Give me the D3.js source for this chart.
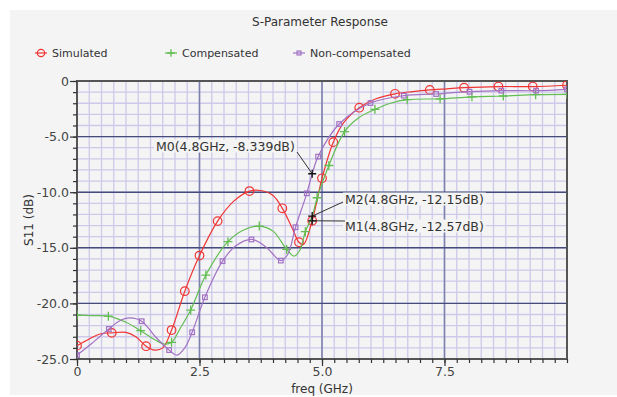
<!DOCTYPE html>
<html>
<head>
<meta charset="utf-8">
<script src="https://cdn.jsdelivr.net/npm/d3@7"></script>
<style>
  body { margin: 0; background: #fff; }
  text { font-family: "DejaVu Sans", sans-serif; }
</style>
</head>
<body>
<div id="chart"></div>
<script>
// ---- data ----
let simFreq = [0, 0.25, 0.47, 0.71, 1.0, 1.2, 1.41, 1.58, 1.75, 1.93, 2.2, 2.5, 2.87, 3.2, 3.52, 3.75, 4.0, 4.19, 4.4, 4.53, 4.62, 4.8, 5.0, 5.23, 5.45, 5.76, 6.1, 6.49, 6.85, 7.2, 7.55, 7.9, 8.6, 9.3, 10]
let simVal = [-23.8, -23.2, -22.75, -22.65, -22.6, -23.0, -23.85, -24.2, -24.0, -22.4, -18.9, -15.7, -12.6, -10.8, -9.9, -9.85, -10.3, -11.45, -13.3, -14.5, -14.7, -12.57, -8.75, -5.5, -3.7, -2.4, -1.6, -1.15, -0.95, -0.8, -0.7, -0.6, -0.5, -0.5, -0.38]
let simMarks = [0, 3, 6, 9, 10, 11, 12, 14, 17, 19, 21, 22, 23, 25, 27, 29, 31, 32, 33, 34]

let compFreq = [0, 0.3, 0.64, 1.0, 1.3, 1.6, 1.78, 1.93, 2.1, 2.32, 2.63, 3.08, 3.4, 3.72, 4.0, 4.28, 4.43, 4.55, 4.66, 4.8, 4.9, 5.14, 5.46, 5.75, 6.08, 6.4, 6.74, 7.41, 8.06, 8.7, 9.36, 10]
let compVal = [-21.05, -21.1, -21.15, -21.7, -22.45, -23.3, -23.65, -23.5, -22.3, -20.6, -17.45, -14.45, -13.4, -13.05, -13.5, -15.15, -15.75, -15.2, -13.55, -12.15, -10.5, -7.6, -4.55, -3.3, -2.55, -2.0, -1.68, -1.6, -1.42, -1.35, -1.23, -1.2]
let compMarks = [0, 2, 4, 7, 9, 10, 11, 13, 15, 18, 20, 21, 22, 24, 26, 27, 28, 29, 30, 31]

let ncFreq = [0, 0.3, 0.65, 0.9, 1.08, 1.32, 1.6, 1.88, 2.04, 2.2, 2.35, 2.61, 2.97, 3.25, 3.56, 3.85, 4.16, 4.3, 4.46, 4.69, 4.8, 4.92, 5.35, 5.99, 6.67, 7.33, 8.01, 8.66, 9.37, 10]
let ncVal = [-24.65, -23.6, -22.3, -21.5, -21.3, -21.6, -23.0, -24.2, -24.65, -24.0, -22.6, -19.45, -16.2, -14.8, -14.25, -14.9, -16.15, -15.6, -13.15, -10.1, -8.34, -6.8, -3.87, -1.98, -1.32, -1.17, -0.96, -0.87, -0.87, -0.75]
let ncMarks = [0, 2, 5, 7, 10, 11, 12, 14, 16, 18, 19, 21, 22, 23, 24, 25, 26, 27, 28, 29]

let markerNames = ["M0", "M1", "M2"]
let markerFreq = [4.8, 4.8, 4.8]
let markerVal = [-8.339, -12.57, -12.15]

let xMajor = [0, 2.5, 5.0, 7.5]
let yMajor = [0, -5, -10, -15, -20, -25]
let seriesNames = ["Simulated", "Compensated", "Non-compensated"]
let seriesColors = ["#f03434", "#62bd52", "#a272c4"]

// ---- layout ----
let W = 617, H = 397
let plot = {left: 77, top: 81, right: 567, bottom: 359}

let svg = d3.select("#chart").append("svg")
    .attr("width", W)
    .attr("height", H)

svg.append("rect")
    .attr("x", 10).attr("y", 10)
    .attr("width", W - 10).attr("height", H - 12)
    .attr("fill", "#f4f4f4")

let x = d3.scaleLinear().domain([0, 10]).range([plot.left, plot.right])
let y = d3.scaleLinear().domain([-25, 0]).range([plot.bottom, plot.top])

// grid
let grid = svg.append("g")
grid.selectAll(".vminor")
    .data(d3.range(1, 40).map(i => i * 0.25))
  .enter().append("line")
    .attr("x1", d => x(d)).attr("x2", d => x(d))
    .attr("y1", plot.top).attr("y2", plot.bottom)
    .attr("stroke", "#cdc9ea").attr("stroke-width", 1.3)
grid.selectAll(".hminor")
    .data(d3.range(-24, 0))
  .enter().append("line")
    .attr("y1", d => y(d)).attr("y2", d => y(d))
    .attr("x1", plot.left).attr("x2", plot.right)
    .attr("stroke", "#cdc9ea").attr("stroke-width", 1.3)
grid.selectAll(".vmajor")
    .data(xMajor.slice(1))
  .enter().append("line")
    .attr("x1", d => x(d)).attr("x2", d => x(d))
    .attr("y1", plot.top).attr("y2", plot.bottom)
    .attr("stroke", "#7c82ad").attr("stroke-width", 1.6)
grid.selectAll(".hmajor")
    .data(yMajor.slice(1, -1))
  .enter().append("line")
    .attr("y1", d => y(d)).attr("y2", d => y(d))
    .attr("x1", plot.left).attr("x2", plot.right)
    .attr("stroke", "#454b7c").attr("stroke-width", 1.4)

// frame
svg.append("rect")
    .attr("x", plot.left).attr("y", plot.top)
    .attr("width", plot.right - plot.left).attr("height", plot.bottom - plot.top)
    .attr("fill", "none").attr("stroke", "#555").attr("stroke-width", 2)

// axes
let fmt = d => d === 0 ? "0" : d3.format(".1f")(d).replace("\u2212", "-")

let xAxisMinor = d3.axisBottom(x).tickValues(d3.range(0, 41).map(i => i * 0.25))
    .tickSize(4).tickSizeOuter(0).tickFormat("")
let xAxis = d3.axisBottom(x).tickValues(xMajor).tickSize(7).tickSizeOuter(0).tickFormat(fmt)
let yAxisMinor = d3.axisLeft(y).tickValues(d3.range(-25, 1)).tickSize(4).tickSizeOuter(0).tickFormat("")
let yAxis = d3.axisLeft(y).tickValues(yMajor).tickSize(7).tickSizeOuter(0).tickFormat(fmt)

function styleAxis(g) {
  g.select(".domain").remove()
  g.selectAll("line").attr("stroke", "#333").attr("stroke-width", 1.2)
  g.selectAll("text").attr("fill", "#444").attr("font-size", "12.5px")
    .attr("font-family", "DejaVu Sans, sans-serif")
}
svg.append("g").attr("transform", `translate(0, ${plot.bottom})`).call(xAxisMinor).call(styleAxis)
svg.append("g").attr("transform", `translate(0, ${plot.bottom})`).call(xAxis).call(styleAxis)
  .selectAll("text").attr("y", 8)
svg.append("g").attr("transform", `translate(${plot.left}, 0)`).call(yAxisMinor).call(styleAxis)
svg.append("g").attr("transform", `translate(${plot.left}, 0)`).call(yAxis).call(styleAxis)
  .selectAll("text").attr("x", -8)

// labels
svg.append("text")
    .attr("x", 320).attr("y", 26)
    .attr("text-anchor", "middle").attr("font-size", "12px").attr("fill", "#333")
    .text("S-Parameter Response")
svg.append("text")
    .attr("x", (plot.left + plot.right) / 2).attr("y", 393)
    .attr("text-anchor", "middle").attr("font-size", "12px").attr("fill", "#333")
    .text("freq (GHz)")
svg.append("text")
    .attr("transform", `translate(33, ${(plot.top + plot.bottom) / 2}) rotate(-90)`)
    .attr("text-anchor", "middle").attr("font-size", "12px").attr("fill", "#333")
    .text("S11 (dB)")

// curves
svg.append("clipPath").attr("id", "clip")
  .append("rect")
    .attr("x", plot.left).attr("y", plot.top)
    .attr("width", plot.right - plot.left).attr("height", plot.bottom - plot.top)

let line = d3.line()
    .x(d => x(d[0])).y(d => y(d[1]))
    .curve(d3.curveCatmullRom.alpha(0.5))

let series = [
  {f: simFreq, v: simVal, m: simMarks, shape: "circle"},
  {f: compFreq, v: compVal, m: compMarks, shape: "plus"},
  {f: ncFreq, v: ncVal, m: ncMarks, shape: "square"}
]

function drawMarker(g, shape, cx, cy, color, s) {
  s = s || 1
  if (shape === "circle") {
    g.append("circle").attr("cx", cx).attr("cy", cy).attr("r", 4.3 * s)
      .attr("fill", "none").attr("stroke", color).attr("stroke-width", 1.2)
  } else if (shape === "plus") {
    let a = 4.5 * s
    g.append("path").attr("d", `M${cx - a},${cy}H${cx + a}M${cx},${cy - a}V${cy + a}`)
      .attr("stroke", color).attr("stroke-width", 1.3)
  } else {
    let h = 2.3 * s
    g.append("rect").attr("x", cx - h).attr("y", cy - h).attr("width", 2 * h).attr("height", 2 * h)
      .attr("fill", "none").attr("stroke", color).attr("stroke-width", 1.2)
  }
}

let curves = svg.append("g").attr("clip-path", "url(#clip)")
series.forEach((s, i) => {
  let pts = s.f.map((f, j) => [f, s.v[j]])
  curves.append("path")
      .datum(pts)
      .attr("d", line)
      .attr("fill", "none")
      .attr("stroke", seriesColors[i])
      .attr("stroke-width", 1.2)
  s.m.forEach(j => drawMarker(curves, s.shape, x(s.f[j]), y(s.v[j]), seriesColors[i]))
})

// legend
let legendX = [41, 171, 299]
seriesNames.forEach((name, i) => {
  let g = svg.append("g")
  g.append("line").attr("x1", legendX[i] - 6).attr("x2", legendX[i] + 6)
    .attr("y1", 53).attr("y2", 53).attr("stroke", seriesColors[i]).attr("stroke-width", 1.2)
  drawMarker(g, series[i].shape, legendX[i], 53, seriesColors[i], 0.85)
  g.append("text").attr("x", legendX[i] + 11).attr("y", 57)
    .attr("font-size", "11px").attr("fill", "#333").text(name)
})

// marker annotations
let labelPos = [
  {tx: 156, ty: 146, lx: 297, ly: 152},
  {tx: 345, ty: 226, lx: 345, ly: 221},
  {tx: 345, ty: 199, lx: 343, ly: 202}
]
markerNames.forEach((name, i) => {
  let mx = x(markerFreq[i]), my = y(markerVal[i])
  let p = labelPos[i]
  let txt = `${name}(${markerFreq[i]}GHz, -${Math.abs(markerVal[i])}dB)`
  let g = svg.append("g")
  let t = g.append("text").attr("x", p.tx).attr("y", p.ty).attr("dy", "0.36em")
    .attr("font-size", "12.5px").attr("fill", "#333").text(txt)
  let bb = t.node().getBBox()
  g.insert("rect", "text").attr("x", bb.x - 2).attr("y", bb.y + 1)
    .attr("width", bb.width + 4).attr("height", bb.height - 2).attr("fill", "#f4f4f4")
  svg.append("line").attr("x1", p.lx).attr("y1", p.ly).attr("x2", mx).attr("y2", my)
    .attr("stroke", "#333").attr("stroke-width", 1)
  svg.append("path").attr("d", `M${mx - 4},${my}H${mx + 4}M${mx},${my - 4}V${my + 4}`)
    .attr("stroke", "#111").attr("stroke-width", 1.3)
})
</script>
</body>
</html>
